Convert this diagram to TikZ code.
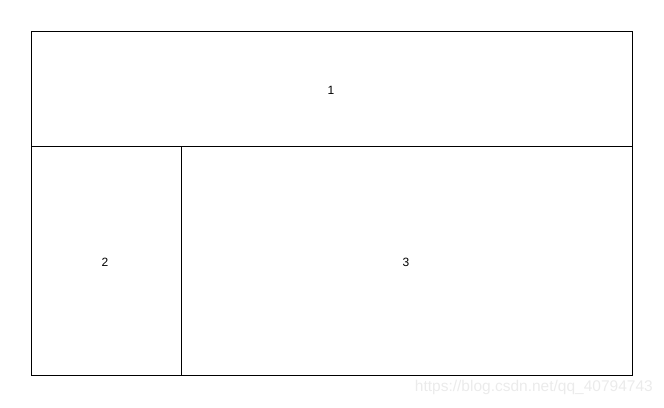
\documentclass[tikz,border=0pt]{standalone}
\usepackage{fontspec}
\setmainfont{Liberation Sans}
\begin{document}
\begin{tikzpicture}[x=1pt,y=-1pt,
  region/.style={draw=black,line width=1pt},
  lbl/.style={font=\fontsize{12}{14}\selectfont,inner sep=0pt},
  wm/.style={font=\fontsize{15.5}{17}\selectfont,text=black!8,inner sep=0pt,anchor=east}]
\useasboundingbox (0,0) rectangle (664,407);
\coordinate (tl) at (31,31);
\coordinate (br) at (632,375);
\coordinate (ml) at (31,146);
\coordinate (mr) at (632,146);
\coordinate (vt) at (181,146);
\coordinate (vb) at (181,375);
\draw[region] (tl) rectangle (br);
\draw[region] (ml) -- (mr);
\draw[region] (vt) -- (vb);
\node[lbl] (n1) at (331,90) {1};
\node[lbl] (n2) at (105,262) {2};
\node[lbl] (n3) at (406,262) {3};
\node[wm] (wm) at (653,387) {https://blog.csdn.net/qq\_40794743};
\end{tikzpicture}
\end{document}
